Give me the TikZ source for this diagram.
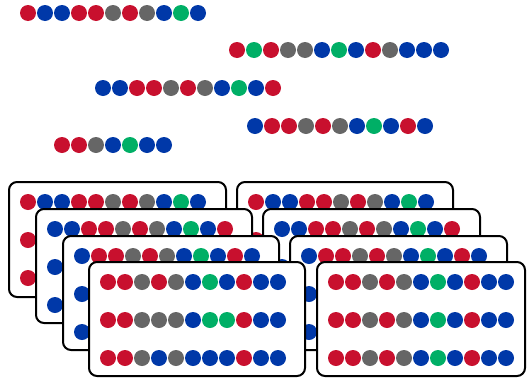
\documentclass[tikz,border=0pt]{standalone}
\usepackage{tikz}
\usepackage{xcolor}
\definecolor{rd}{HTML}{C8102E}
\definecolor{bu}{HTML}{0038A8}
\definecolor{gy}{HTML}{666666}
\definecolor{gn}{HTML}{00AF66}
\newcommand{\dotrow}[3]{%
  \foreach \col [count=\k from 0] in {#3}
    \fill[\col] ({#1+17*\k},#2) circle (8);}

\begin{document}
\begin{tikzpicture}[x=1pt, y=-1pt,
  card/.style={draw, line width=2pt, fill=white, rounded corners=8pt}
]
\useasboundingbox (0,0) rectangle (530,378);

\dotrow{28}{13}{rd,bu,bu,rd,rd,gy,rd,gy,bu,gn,bu}
\dotrow{237}{50}{rd,gn,rd,gy,gy,bu,gn,bu,rd,gy,bu,bu,bu}
\dotrow{103}{88}{bu,bu,rd,rd,gy,rd,gy,bu,gn,bu,rd}
\dotrow{255}{126}{bu,rd,rd,gy,rd,gy,bu,gn,bu,rd,bu}
\dotrow{62}{145}{rd,rd,gy,bu,gn,bu,bu}

\begin{scope}[shift={(9,182)}]
  \draw[card] (0,0) rectangle (217,115);
  \dotrow{19}{20}{rd,bu,bu,rd,rd,gy,rd,gy,bu,gn,bu}
  \dotrow{19}{58}{rd,bu,bu,rd,rd,gy,rd,gy,bu,gn,bu}
  \dotrow{19}{96}{rd,bu,bu,rd,rd,gy,rd,gy,bu,gn,bu}
\end{scope}

\begin{scope}[shift={(237,182)}]
  \draw[card] (0,0) rectangle (216,115);
  \dotrow{19}{20}{rd,bu,bu,rd,rd,gy,rd,gy,bu,gn,bu}
  \dotrow{19}{58}{rd,bu,bu,rd,rd,gy,rd,gy,bu,gn,bu}
  \dotrow{19}{96}{rd,bu,bu,rd,rd,gy,rd,gy,bu,gn,bu}
\end{scope}

\begin{scope}[shift={(36,209)}]
  \draw[card] (0,0) rectangle (216,114);
  \dotrow{19}{20}{bu,bu,rd,rd,gy,rd,gy,bu,gn,bu,rd}
  \dotrow{19}{58}{bu,bu,rd,rd,gy,rd,gy,bu,gn,bu,rd}
  \dotrow{19}{96}{bu,bu,rd,rd,gy,rd,gy,bu,gn,bu,rd}
\end{scope}

\begin{scope}[shift={(263,209)}]
  \draw[card] (0,0) rectangle (217,114);
  \dotrow{19}{20}{bu,bu,rd,rd,gy,rd,gy,bu,gn,bu,rd}
  \dotrow{19}{58}{bu,bu,rd,rd,gy,rd,gy,bu,gn,bu,rd}
  \dotrow{19}{96}{bu,bu,rd,rd,gy,rd,gy,bu,gn,bu,rd}
\end{scope}

\begin{scope}[shift={(63,236)}]
  \draw[card] (0,0) rectangle (216,114);
  \dotrow{19}{20}{bu,rd,rd,gy,rd,gy,bu,gn,bu,rd,bu}
  \dotrow{19}{58}{bu,rd,rd,gy,rd,gy,bu,gn,bu,rd,bu}
  \dotrow{19}{96}{bu,rd,rd,gy,rd,gy,bu,gn,bu,rd,bu}
\end{scope}

\begin{scope}[shift={(290,236)}]
  \draw[card] (0,0) rectangle (217,114);
  \dotrow{19}{20}{bu,rd,rd,gy,rd,gy,bu,gn,bu,rd,bu}
  \dotrow{19}{58}{bu,rd,rd,gy,rd,gy,bu,gn,bu,rd,bu}
  \dotrow{19}{96}{bu,rd,rd,gy,rd,gy,bu,gn,bu,rd,bu}
\end{scope}

\begin{scope}[shift={(89,262)}]
  \draw[card] (0,0) rectangle (216,114);
  \dotrow{19}{20}{rd,rd,gy,rd,gy,bu,gn,bu,rd,bu,bu}
  \dotrow{19}{58}{rd,rd,gy,gy,gy,bu,gn,gn,rd,bu,bu}
  \dotrow{19}{96}{rd,rd,gy,bu,gy,bu,bu,bu,rd,bu,bu}
\end{scope}

\begin{scope}[shift={(317,262)}]
  \draw[card] (0,0) rectangle (208,114);
  \dotrow{19}{20}{rd,rd,gy,rd,gy,bu,gn,bu,rd,bu,bu}
  \dotrow{19}{58}{rd,rd,gy,rd,gy,bu,gn,bu,rd,bu,bu}
  \dotrow{19}{96}{rd,rd,gy,rd,gy,bu,gn,bu,rd,bu,bu}
\end{scope}
\end{tikzpicture}
\end{document}
